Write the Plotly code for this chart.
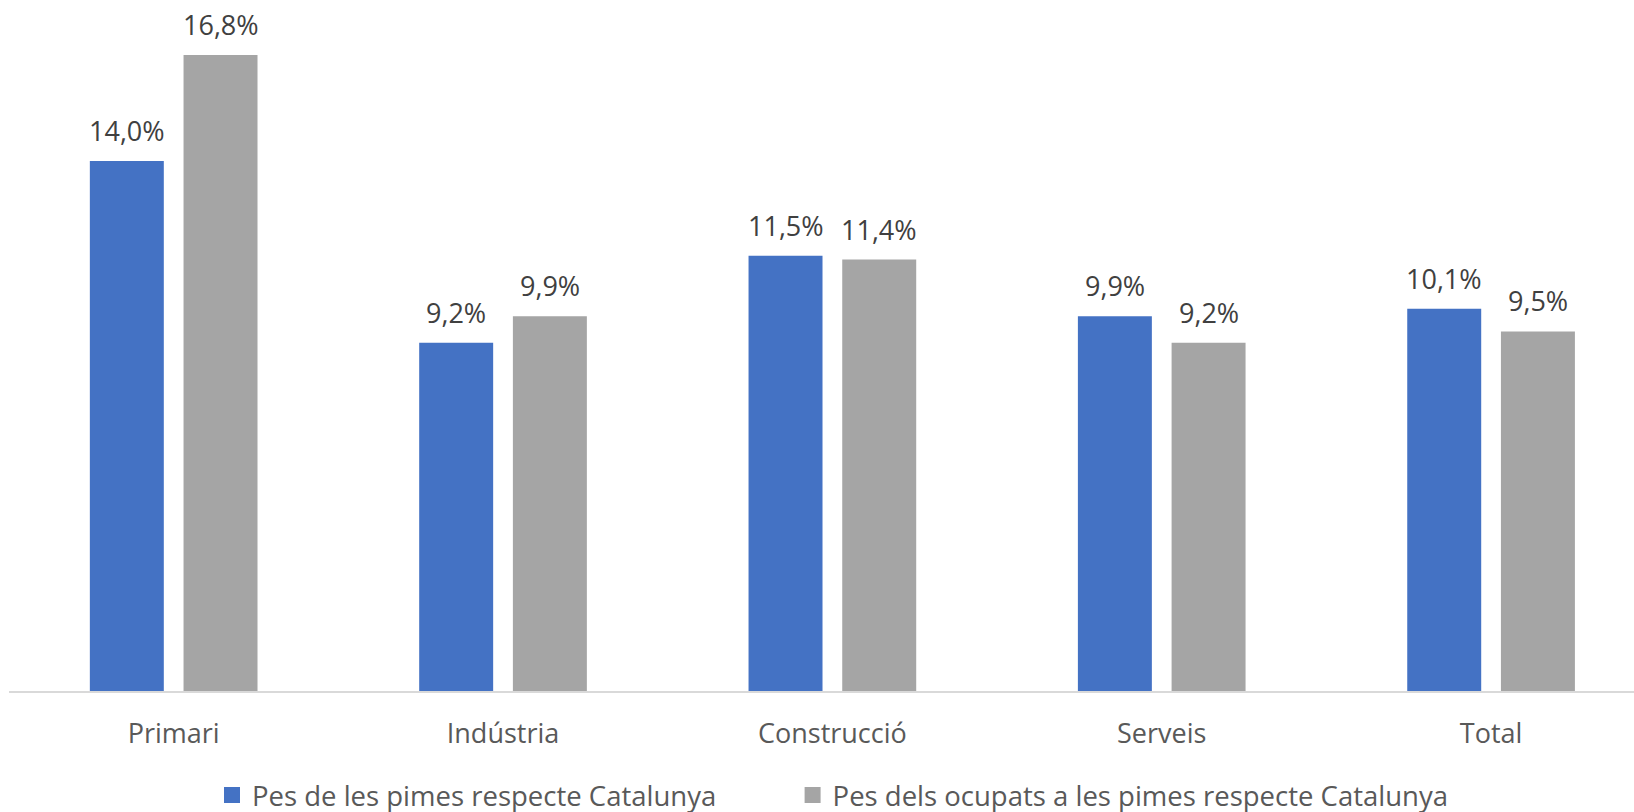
import plotly.graph_objects as go

categories = ["Primari", "Indústria", "Construcció", "Serveis", "Total"]
pes_pimes = [14.0, 9.2, 11.5, 9.9, 10.1]
pes_ocupats = [16.8, 9.9, 11.4, 9.2, 9.5]
series_names = ["Pes de les pimes respecte Catalunya",
                "Pes dels ocupats a les pimes respecte Catalunya"]
colors = ["#4472C4", "#A5A5A5"]

FONT = "Open Sans"
W, H = 1634, 812
LEFT = 9
BASE = 691
PX_PER_UNIT = 37.85
CAT_PX = 329.35
OFFSET_PX = 46.85

fig = go.Figure()
for i, (vals, name, col) in enumerate(zip([pes_pimes, pes_ocupats], series_names, colors)):
    fig.add_trace(go.Bar(x=categories, y=vals, name=name, marker_color=col,
                         marker_line_width=0, showlegend=False))
    fig.add_trace(go.Scatter(x=[None], y=[None], mode="markers", name=name,
                             marker=dict(symbol="square", size=16, color=col),
                             showlegend=True, legend="legend" if i == 0 else "legend2"))

def fmt(v):
    return f"{v:.1f}".replace(".", ",") + "%"

annotations = []
for vals, sh in zip([pes_pimes, pes_ocupats], [-OFFSET_PX, OFFSET_PX]):
    for c, v in zip(categories, vals):
        annotations.append(dict(x=c, y=v, xref="x", yref="y", text=fmt(v),
                                showarrow=False, yanchor="bottom", xanchor="center",
                                xshift=sh, yshift=10,
                                font=dict(family=FONT, size=27, color="#404040")))

x_right = (W - LEFT) / CAT_PX - 0.5
y_top = BASE / PX_PER_UNIT

legend_common = dict(orientation="h", xanchor="left", xref="container",
                     yref="container", y=1 - 795 / H, yanchor="middle",
                     font=dict(family=FONT, size=27.5, color="#595959"),
                     itemsizing="trace", bgcolor="rgba(0,0,0,0)")

fig.update_layout(
    width=W, height=H,
    margin=dict(l=LEFT, r=0, t=0, b=H - BASE, pad=0),
    plot_bgcolor="white", paper_bgcolor="white",
    barmode="group", bargap=0.431, bargroupgap=0.2105,
    annotations=annotations,
    legend=dict(x=212 / W, **legend_common),
    legend2=dict(x=(212 + 580.6) / W, **legend_common),
    xaxis=dict(type="category", range=[-0.5, x_right], showline=True,
               linecolor="#D9D9D9", linewidth=2, ticks="", showgrid=False,
               tickfont=dict(family=FONT, size=27, color="#595959"),
               ticklabelstandoff=18),
    yaxis=dict(range=[0, y_top], visible=False, showgrid=False, zeroline=False),
)

fig.write_html("out.html", config={"displayModeBar": False},
               post_script="document.body.style.margin='0';")
